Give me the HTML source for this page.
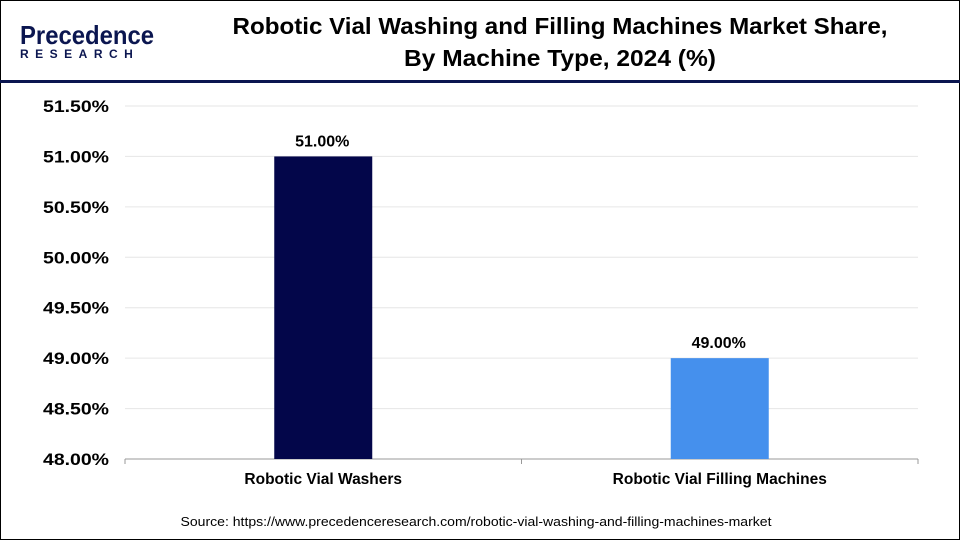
<!DOCTYPE html>
<html><head><meta charset="utf-8"><style>
body{margin:0;width:960px;height:540px;overflow:hidden;background:#fff;font-family:"Liberation Sans",Arial,sans-serif}
#frame{position:absolute;left:0;top:0;width:958px;height:538px;border:1px solid #000}
</style></head><body>
<div id="frame"></div>
<svg width="960" height="540" style="position:absolute;left:0;top:0">
<g>
<text x="20" y="44" font-size="26" font-weight="bold" fill="#0b1650" textLength="134" lengthAdjust="spacingAndGlyphs">Precedence</text>
<text x="20" y="58" font-size="12" font-weight="bold" fill="#0b1650" letter-spacing="6.5">RESEARCH</text>
</g>
<text x="560" y="34" text-anchor="middle" font-size="23" font-weight="bold" fill="#000" textLength="655" lengthAdjust="spacingAndGlyphs">Robotic Vial Washing and Filling Machines Market Share,</text>
<text x="560" y="66" text-anchor="middle" font-size="23" font-weight="bold" fill="#000" textLength="312" lengthAdjust="spacingAndGlyphs">By Machine Type, 2024 (%)</text>
<rect x="0" y="80" width="960" height="3" fill="#0b1650"/>
<g id="grid"></g><g id="bars"></g>
<text x="476" y="526" text-anchor="middle" font-size="13" fill="#000" textLength="591" lengthAdjust="spacingAndGlyphs">Source: https://www.precedenceresearch.com/robotic-vial-washing-and-filling-machines-market</text>
</svg>
<script>
const categories=["Robotic Vial Washers","Robotic Vial Filling Machines"];
const values=[51.0,49.0];
const ticks=[48.0,48.5,49.0,49.5,50.0,50.5,51.0,51.5];
const colors=["#03064a","#4590ed"];
const NS="http://www.w3.org/2000/svg";
const x0=125,x1=918,yB=459,yT=106,vMin=48,vMax=51.5;
const y=v=>yB-(v-vMin)/(vMax-vMin)*(yB-yT);
const bw=(x1-x0)/categories.length;
const xc=i=>x0+bw*(i+0.5);
function mk(t,a,p){const e=document.createElementNS(NS,t);for(const k in a)e.setAttribute(k,a[k]);p.appendChild(e);return e;}
const g=document.getElementById('grid'),b=document.getElementById('bars');
ticks.forEach(t=>{
 if(t>vMin){const l=mk('line',{x1:x0,x2:x1,y1:y(t),y2:y(t),stroke:'#e6e6e6'},g);
 
 }
 const tx=mk('text',{x:109,y:y(t)+6,'text-anchor':'end','font-size':17,'font-weight':'bold',textLength:66,lengthAdjust:'spacingAndGlyphs'},g);tx.textContent=t.toFixed(2)+'%';
 
 
});
const ax=mk('line',{x1:x0,x2:x1,y1:yB,y2:yB,stroke:'#999'},g);


[0,1,2].forEach(i=>{const t=mk('line',{x1:x0+bw*i,x2:x0+bw*i,y1:yB,y2:yB+5,stroke:'#999'},g);
 
 });
categories.forEach((c,i)=>{
 const r=mk('rect',{x:xc(i)-49,y:y(values[i]),width:98,height:yB-y(values[i]),fill:colors[i]},b);
 
 
 const v=mk('text',{x:xc(i)-1,y:y(values[i])-10,'text-anchor':'middle','font-size':16,'font-weight':'bold'},b);v.textContent=values[i].toFixed(2)+'%';
 
 
 const l=mk('text',{x:xc(i),y:484,'text-anchor':'middle','font-size':15.5,'font-weight':'bold'},b);l.textContent=c;
 
 
});
</script>
</body></html>
